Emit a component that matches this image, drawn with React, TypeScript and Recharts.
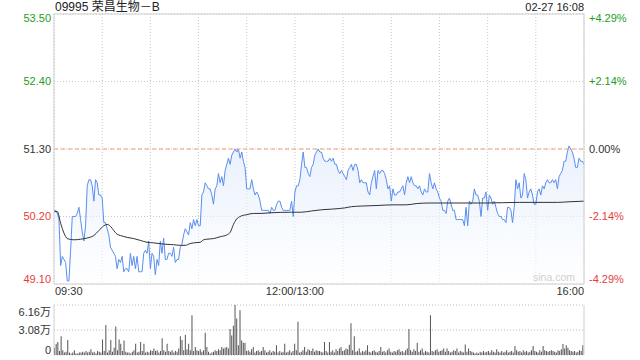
import React from "react";
import {
  ComposedChart,
  Area,
  Line,
  Bar,
  XAxis,
  YAxis,
  CartesianGrid,
  ReferenceLine,
} from "recharts";

const stockName = "09995 荣昌生物－B";
const stamp = "02-27 16:08";
const prevClose = 51.3;
const priceTicks = [49.1, 50.2, 51.3, 52.4, 53.5];
const timeTicks = [0, 29, 58, 87, 116, 145, 174, 203, 232, 261, 290, 319];
const timeLabelAt = [0, 145, 319];
const timeLabels = ["09:30", "12:00/13:00", "16:00"];
const volTicks = [0, 3.08, 6.16];
const volLabels = ["0", "3.08万", "6.16万"];

// price, one point per ~minute
const prices = [
  50.3, 50.3, 50.25, 50.15, 49.4, 49.55, 49.5, 49.45, 49.15, 49.15,
  49.65, 50.2, 50.2, 50.2, 50.25, 50.35, 50.15, 49.95, 49.8, 50.05,
  50.7, 50.8, 50.8, 50.7, 50.45, 50.8, 50.75, 50.55, 50.55, 50.5,
  50.1, 50.1, 50.0, 49.9, 49.7, 49.65, 49.6, 49.55, 49.35, 49.5,
  49.45, 49.55, 49.3, 49.35, 49.35, 49.3, 49.6, 49.4, 49.55, 49.35,
  49.55, 49.3, 49.3, 49.3, 49.6, 49.65, 49.6, 49.8, 49.35, 49.6,
  49.55, 49.25, 49.5, 49.4, 49.8, 49.6, 49.85,
  49.5, 49.5, 49.6, 49.6, 49.55, 49.7, 49.45, 49.5, 49.5, 49.7,
  49.75, 49.9, 50.0, 49.95, 49.9, 50.1, 50.0, 50.15, 50.05, 50.15,
  50.05, 50.05, 50.55, 50.6, 50.75, 50.7, 50.65, 50.65, 50.55, 50.4,
  50.65, 50.7, 50.9, 50.75, 50.85, 50.7, 50.95, 51.05, 51.15, 51.05,
  51.2, 51.25, 51.3, 51.25, 51.3, 51.15, 51.25, 51.1, 51.0, 50.65,
  50.65, 50.65, 50.8, 50.65, 50.55, 50.6, 50.55, 50.45, 50.3, 50.3,
  50.3, 50.3, 50.3, 50.25,
  50.35, 50.3, 50.3, 50.4, 50.45, 50.45, 50.35, 50.3, 50.3, 50.3,
  50.3, 50.3, 50.45, 50.2, 50.6, 50.7, 50.7, 50.8, 51.05, 51.25,
  51.0, 51.0, 50.9, 50.85, 51.0, 51.05, 51.2, 51.25, 51.3, 51.25,
  51.25, 51.15, 51.1, 51.1, 51.1, 51.15, 51.1, 51.15, 51.05, 51.05,
  50.95, 50.9, 50.95, 50.9, 50.85, 50.8, 50.95, 51.0, 51.05, 50.95,
  51.05, 51.05, 50.95, 50.75, 50.8, 50.75, 50.75, 50.75, 50.6, 50.55,
  50.75, 50.85, 50.95, 50.65, 50.95,
  50.9, 50.95, 50.95, 50.9, 50.8, 50.65, 50.7, 50.45, 50.65, 50.55,
  50.55, 50.6, 50.6, 50.65, 50.7, 50.55, 50.75, 50.85, 50.75, 50.85,
  50.75, 50.7, 50.7, 50.65, 50.7, 50.6, 50.55, 50.65, 50.6, 50.6,
  50.9, 50.75, 50.65, 50.75, 50.65, 50.6, 50.5, 50.45, 50.3, 50.3,
  50.25, 50.45, 50.5, 50.4, 50.3, 50.3, 50.15, 50.15, 50.15, 50.15,
  50.15, 50.05, 50.35, 50.05, 50.45, 50.4, 50.45, 50.65, 50.55, 50.55,
  50.45, 50.2, 50.5, 50.5, 50.6,
  50.3, 50.55, 50.5, 50.4, 50.45, 50.35, 50.25, 50.2, 50.2, 50.15,
  50.15, 50.1, 50.35, 50.35, 50.3, 50.1, 50.35, 50.8, 50.65, 50.75,
  50.5, 50.55, 50.9, 50.8, 50.5, 50.6, 50.65, 50.55, 50.4, 50.4,
  50.6, 50.65, 50.55, 50.7, 50.65, 50.75, 50.8, 50.75, 50.75, 50.8,
  50.75, 50.8, 50.65, 50.85, 50.9, 50.95, 51.1, 51.1, 51.25, 51.35,
  51.3, 51.25, 51.15, 51.0, 51.0, 51.15, 51.1, 51.1, 51.05,
];

// average price, read at [index, value]
const avgLine: [number, number][] = [
  [0, 50.28], [2, 50.28], [4, 50.09], [6, 49.93], [8, 49.84], [12, 49.82],
  [16, 49.83], [20, 49.85], [24, 49.89], [27, 49.97], [30, 50.05], [32, 50.07],
  [34, 50.04], [36, 49.97], [38, 49.91], [40, 49.89], [44, 49.86], [48, 49.84],
  [52, 49.81], [56, 49.78], [60, 49.77], [66, 49.75], [72, 49.74], [76, 49.73],
  [79, 49.73], [82, 49.76], [84, 49.77], [88, 49.78], [90, 49.82], [92, 49.83],
  [96, 49.84], [100, 49.87], [104, 49.9], [106, 49.94], [107, 50.0], [108, 50.07],
  [110, 50.16], [112, 50.2], [116, 50.23], [120, 50.25], [124, 50.25], [130, 50.26],
  [143, 50.27], [149, 50.27], [155, 50.29], [161, 50.31], [167, 50.32], [175, 50.34],
  [179, 50.36], [185, 50.37], [195, 50.38], [204, 50.39], [212, 50.39], [218, 50.41],
  [226, 50.42], [234, 50.42], [260, 50.42], [280, 50.43], [303, 50.43], [310, 50.44],
  [319, 50.45],
];

// volume in 万
const volumes = [
  0.9, 1.4, 1.6, 0.5, 2.3, 0.6, 0.3, 0.4, 1.85, 0.3,
  0.2, 0.3, 0.6, 0.2, 0.2, 0.3, 0.3, 0.4, 0.3, 0.5,
  0.3, 0.4, 0.7, 0.3, 0.4, 0.2, 0.5, 0.4, 0.3, 1.9,
  0.5, 3.7, 0.3, 0.6, 1.85, 0.4, 0.9, 3.5, 0.6, 1.9,
  1.4, 0.5, 1.8, 0.4, 0.3, 0.3, 0.2, 0.4, 0.6, 1.4,
  0.3, 0.4, 1.6, 0.5, 1.4, 0.3, 0.4, 0.3, 0.6, 0.5,
  0.8, 0.5, 0.6, 0.3, 0.5, 2.05, 0.6, 0.4, 1.4, 0.5,
  0.4, 0.6, 0.3, 0.5, 0.4, 0.8, 2.3, 1.85, 0.6, 2.5,
  0.7, 1.4, 0.6, 4.9, 0.5, 1.0, 0.6, 0.5, 0.7, 0.4,
  0.6, 2.75, 1.0, 0.4, 0.2, 0.3, 0.4, 0.6, 0.5, 0.7,
  0.6, 1.0, 0.8, 0.9, 1.0, 0.8, 3.2, 2.4, 3.6, 6.16,
  4.5, 1.2, 5.5, 1.8, 1.5, 1.5, 0.5, 0.6, 0.4, 0.7,
  1.0, 0.3, 0.5, 0.6, 0.4, 0.5, 1.0, 0.6, 0.3, 0.4,
  0.6, 0.3, 0.5, 0.4, 1.2, 0.3, 0.5, 0.3, 0.4, 1.4,
  0.3, 0.4, 0.6, 0.3, 0.5, 1.4, 0.6, 4.1, 0.3, 0.4,
  0.6, 1.0, 0.4, 0.7, 0.6, 0.5, 0.8, 0.4, 0.6, 0.5,
  0.5, 0.4, 0.3, 1.6, 0.5, 0.3, 1.6, 0.4, 0.6, 0.3,
  0.7, 0.5, 0.8, 1.0, 0.5, 0.6, 0.8, 0.7, 1.25, 3.9,
  0.6, 2.3, 0.4, 0.5, 0.8, 0.3, 0.5, 0.4, 0.6, 1.2,
  0.4, 0.3, 0.5, 0.6, 0.4, 0.3, 0.5, 1.0, 0.4, 0.5,
  0.3, 0.6, 0.8, 0.4, 0.3, 0.5, 0.4, 0.6, 0.7, 0.4,
  0.5, 0.3, 0.6, 0.8, 3.2, 0.6, 0.4, 0.7, 0.5, 1.5,
  0.4, 0.6, 0.8, 0.3, 0.5, 0.4, 0.3, 4.9, 0.5, 0.4,
  0.6, 0.7, 0.4, 0.5, 0.6, 0.8, 0.4, 0.8, 0.5, 0.3,
  0.4, 0.6, 0.5, 0.8, 0.3, 0.5, 0.4, 0.3, 1.3, 0.4,
  0.8, 0.5, 0.4, 0.3, 0.2, 0.3, 0.2, 0.4, 0.3, 0.5,
  0.3, 0.4, 0.5, 0.3, 0.6, 0.4, 0.3, 0.7, 0.4, 0.3,
  0.5, 0.3, 0.4, 0.6, 0.3, 0.4, 0.5, 0.3, 1.1, 0.6,
  0.4, 0.5, 0.3, 0.6, 0.4, 0.5, 0.3, 0.4, 0.6, 1.1,
  0.5, 0.4, 0.3, 0.6, 0.4, 1.1, 0.6, 0.5, 0.4, 0.5,
  0.6, 0.5, 0.4, 0.3, 0.6, 0.5, 0.7, 1.35, 0.8, 1.2,
  0.9, 0.6, 0.5, 0.4, 0.5, 0.3, 0.4, 0.6, 0.5, 1.2,
];

const avgMap = new Map(avgLine);
const data = prices.map((p, i) => ({
  i,
  price: p,
  avg: avgMap.has(i) ? avgMap.get(i) : null,
  vol: volumes[i],
}));

const FONT = "'Liberation Sans', Arial, 'Noto Sans CJK SC', sans-serif";
const GREEN = "#22a022";
const RED = "#e63d3d";
const GRID = "#c8c8c8";
const FRAME = "#cfcfcf";

const priceColor = (v: number) =>
  v > prevClose + 0.001 ? GREEN : v < prevClose - 0.001 ? RED : "#333";
const edgeShift = (v: number) =>
  v === priceTicks[priceTicks.length - 1] ? 4 : v === priceTicks[0] ? -5 : 0;

function PriceTick({ x, y, payload }: any) {
  const v = payload.value as number;
  return (
    <text x={x} y={y + edgeShift(v)} dy="0.35em" textAnchor="end" fontSize={11} fontFamily={FONT} fill={priceColor(v)}>
      {v.toFixed(2)}
    </text>
  );
}

function PctTick({ x, y, payload }: any) {
  const v = payload.value as number;
  const pct = ((v - prevClose) / prevClose) * 100;
  const s = (pct > 0.001 ? "+" : "") + pct.toFixed(2) + "%";
  return (
    <text x={x} y={y + edgeShift(v)} dy="0.35em" textAnchor="start" fontSize={11} fontFamily={FONT} fill={priceColor(v)}>
      {s}
    </text>
  );
}

function TimeTick({ x, y, payload }: any) {
  const k = timeLabelAt.indexOf(payload.value);
  if (k < 0) return <g />;
  const anchor = k === 0 ? "start" : k === timeLabelAt.length - 1 ? "end" : "middle";
  return (
    <text x={x + (k === 0 ? 1 : 0)} y={y} dy={3} textAnchor={anchor} fontSize={11} fontFamily={FONT} fill="#333">
      {timeLabels[k]}
    </text>
  );
}

function VolTick({ x, y, payload }: any) {
  const k = volTicks.indexOf(payload.value);
  const shift = k === volTicks.length - 1 ? 7 : k === 0 ? -5 : 0;
  return (
    <text x={x} y={y + shift} dy="0.35em" textAnchor="end" fontSize={11} fontFamily={FONT} fill="#333">
      {volLabels[k]}
    </text>
  );
}

export default function App() {
  return (
    <div style={{ position: "absolute", left: 0, top: 0, width: 640, height: 360, background: "#fff", fontFamily: FONT }}>
      <div style={{ position: "absolute", left: 55, top: 0, fontSize: 12, lineHeight: "14px", color: "#222" }}>
        {stockName}
      </div>
      <div style={{ position: "absolute", right: 56, top: 0, fontSize: 11, lineHeight: "14px", color: "#222" }}>
        {stamp}
      </div>

      <div style={{ position: "absolute", left: 0, top: 0 }}>
        <ComposedChart width={640} height={300} data={data} margin={{ top: 14, right: 0, left: 0, bottom: 0 }}>
          <defs>
            <linearGradient id="priceFill" x1="0" y1="0" x2="0" y2="1">
              <stop offset="0%" stopColor="#dce8fb" />
              <stop offset="100%" stopColor="#ffffff" />
            </linearGradient>
          </defs>
          <CartesianGrid yAxisId="left" stroke={GRID} strokeDasharray="1 2" />
          <XAxis
            dataKey="i"
            type="number"
            domain={[0, 319]}
            ticks={timeTicks}
            interval={0}
            height={16}
            tickLine={false}
            axisLine={{ stroke: FRAME }}
            tick={<TimeTick />}
          />
          <YAxis
            yAxisId="left"
            width={54}
            domain={[49.1, 53.5]}
            ticks={priceTicks}
            interval={0}
            tickLine={false}
            tickSize={3}
            tickMargin={0}
            axisLine={{ stroke: FRAME }}
            tick={<PriceTick />}
          />
          <YAxis
            yAxisId="right"
            orientation="right"
            width={56}
            domain={[49.1, 53.5]}
            ticks={priceTicks}
            interval={0}
            tickLine={false}
            tickSize={5}
            tickMargin={0}
            axisLine={{ stroke: FRAME }}
            tick={<PctTick />}
          />
          <ReferenceLine yAxisId="left" y={53.5} stroke={FRAME} />
          <ReferenceLine yAxisId="left" y={prevClose} stroke="#f0a070" strokeDasharray="4 3" />
          <Area
            yAxisId="left"
            type="linear"
            dataKey="price"
            stroke="#5a8ef0"
            strokeWidth={1}
            fill="url(#priceFill)"
            dot={false}
            activeDot={false}
            isAnimationActive={false}
          />
          <Line
            yAxisId="right"
            type="monotone"
            dataKey="avg"
            stroke="#333"
            strokeWidth={1}
            dot={false}
            connectNulls
            isAnimationActive={false}
          />
        </ComposedChart>
      </div>

      <div style={{ position: "absolute", left: 533, top: 271, fontSize: 10.5, color: "#cfcfcf" }}>sina.com</div>

      <div style={{ position: "absolute", left: 0, top: 300 }}>
        <ComposedChart width={640} height={60} data={data} margin={{ top: 5, right: 0, left: 0, bottom: 5 }} barCategoryGap={0}>
          <CartesianGrid yAxisId="v" vertical={false} stroke="#bbb" strokeDasharray="1 2" />
          <XAxis dataKey="i" hide />
          <YAxis
            yAxisId="v"
            width={54}
            domain={[0, 6.16]}
            ticks={volTicks}
            interval={0}
            tickLine={false}
            tickSize={3}
            tickMargin={0}
            axisLine={{ stroke: FRAME }}
            tick={<VolTick />}
          />
          <YAxis
            yAxisId="vr"
            orientation="right"
            width={56}
            domain={[0, 6.16]}
            tick={false}
            tickLine={false}
            axisLine={{ stroke: FRAME }}
          />
          <Bar yAxisId="v" dataKey="vol" fill="#555" barSize={1} isAnimationActive={false} />
          <Line yAxisId="vr" dataKey="vol" stroke="none" dot={false} activeDot={false} isAnimationActive={false} />
        </ComposedChart>
      </div>
    </div>
  );
}
